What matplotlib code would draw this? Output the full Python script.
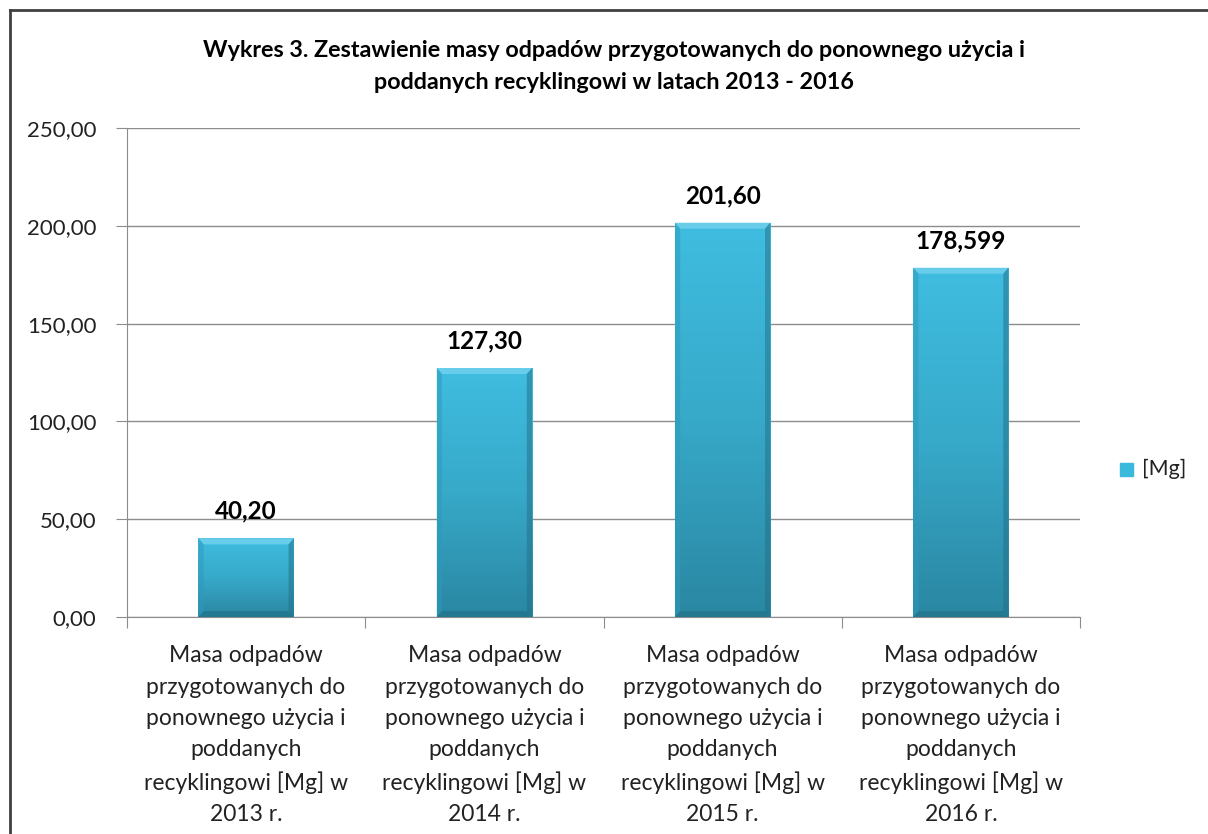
import numpy as np
import matplotlib.pyplot as plt
from matplotlib.patches import Polygon, Rectangle
from matplotlib.lines import Line2D
from matplotlib.colors import LinearSegmentedColormap

plt.rcParams['font.family'] = ['Lato', 'DejaVu Sans']

years = ['2013', '2014', '2015', '2016']
values = [40.20, 127.30, 201.60, 178.599]
value_labels = ['40,20', '127,30', '201,60', '178,599']
cat_labels = ['Masa odpadów\nprzygotowanych do\nponownego użycia i\npoddanych\nrecyklingowi [Mg] w\n%s r.' % y
              for y in years]
yticks = [0, 50, 100, 150, 200, 250]
ytick_labels = ['0,00', '50,00', '100,00', '150,00', '200,00', '250,00']

W, H = 1208, 834
fig = plt.figure(figsize=(W/100, H/100), dpi=100)
ax = fig.add_axes([127/W, 1 - 617/H, (1080-127)/W, (617-128)/H])

x = np.arange(len(values))
w = 0.40
main = '#3bb9dc'
ax.set_xlim(-0.5, 3.5)
ax.set_ylim(0, 250)

# vertical gradient for the bars (light top -> darker bottom)
grad = np.linspace(0, 1, 256).reshape(-1, 1)
cmap = LinearSegmentedColormap.from_list('bar', ['#2a87a2', '#37a9c9', '#3fbde0'])

bars = ax.bar(x, values, width=w, color='none', zorder=3)
bx = 0.022              # bevel width in category units
by = 250 * 6 / 489      # ~6 px in data units
for b, v, lab in zip(bars, values, value_labels):
    l, r = b.get_x(), b.get_x() + b.get_width()
    im = ax.imshow(grad, cmap=cmap, origin='lower', aspect='auto',
                   extent=[l, r, 0, v], zorder=3)
    im.set_clip_path(b)
    ax.add_patch(Polygon([(l, v), (r, v), (r - bx, v - by), (l + bx, v - by)],
                         closed=True, color='#72d2ee', alpha=0.8, zorder=4, lw=0))
    ax.add_patch(Polygon([(l, 0), (l, v), (l + bx, v - by), (l + bx, by)],
                         closed=True, color='#2e9ab9', alpha=0.5, zorder=4, lw=0))
    ax.add_patch(Polygon([(r, 0), (r, v), (r - bx, v - by), (r - bx, by)],
                         closed=True, color='#226f86', alpha=0.5, zorder=4, lw=0))
    ax.add_patch(Polygon([(l, 0), (r, 0), (r - bx, by), (l + bx, by)],
                         closed=True, color='#1f6a80', alpha=0.5, zorder=4, lw=0))
    ax.text((l + r) / 2, v + 8, lab, ha='center', va='bottom',
            fontsize=17.5, fontweight='bold', color='black')

ax.set_xlim(-0.5, 3.5)
ax.set_ylim(0, 250)
ax.set_yticks(yticks)
ax.set_yticklabels(ytick_labels, fontsize=16, color='#222222')
ax.set_xticks(np.arange(-0.5, 4, 1))
ax.set_xticklabels([])
ax.tick_params(axis='x', length=8, color='#8c8c8c', direction='out')
ax.tick_params(axis='y', length=8, color='#8c8c8c', direction='out', pad=14)
ax.grid(axis='y', color='#8c8c8c', lw=1, zorder=0)
for s in ['top', 'right']:
    ax.spines[s].set_visible(False)
for s in ['left', 'bottom']:
    ax.spines[s].set_color('#8c8c8c')

for xi, lab in zip(x, cat_labels):
    ax.text(xi, -14.5, lab, ha='center', va='top', fontsize=16.5, color='#222222',
            linespacing=1.6)

fig.text(614/W, 1 - 66.5/H,
         'Wykres 3. Zestawienie masy odpadów przygotowanych do ponownego użycia i\n'
         'poddanych recyklingowi w latach 2013 - 2016',
         ha='center', va='center', fontsize=16.8, fontweight='bold', linespacing=1.7)

# legend
fig.patches.append(Rectangle((1120/W, 1 - 476/H), 13/W, 13/H,
                             transform=fig.transFigure, color=main))
fig.text(1142/W, 1 - 469/H, '[Mg]', ha='left', va='center', fontsize=15.5,
         color='#222222')

# outer border (left and top only, rest cropped)
fig.lines.append(Line2D([10/W, 10/W], [0, 1 - 10/H], transform=fig.transFigure,
                        color='#404040', lw=2))
fig.lines.append(Line2D([10/W, 1], [1 - 10/H, 1 - 10/H], transform=fig.transFigure,
                        color='#404040', lw=2))

fig.savefig('out.png', dpi=100)
